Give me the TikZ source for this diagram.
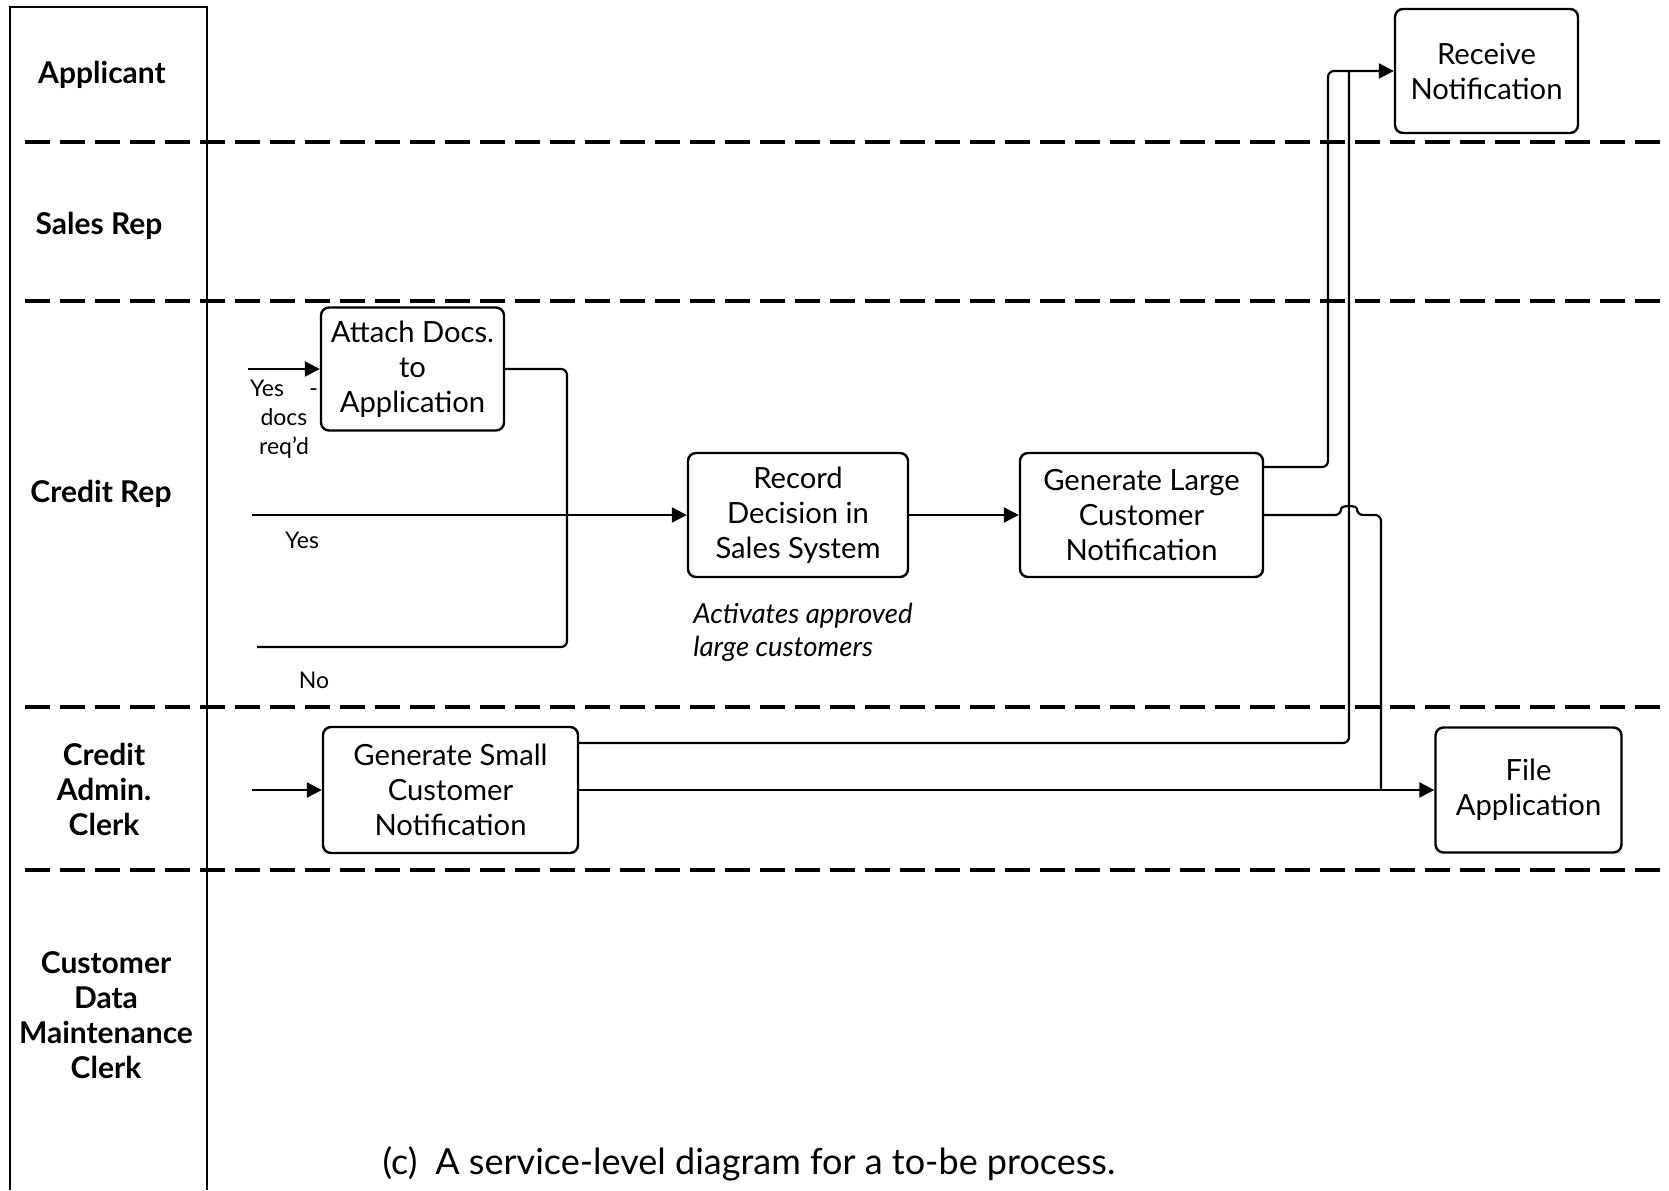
\documentclass[tikz,border=0pt]{standalone}
\usepackage{fontspec}
\setmainfont{Lato}
\usetikzlibrary{arrows.meta,positioning,calc}
\tikzset{task/.style={draw, rectangle, rounded corners=4pt, line width=1.2pt, align=center, inner sep=2pt, font=\fontsize{14.6}{17.5}\selectfont}}
\tikzstyle{lane}=[align=center, inner sep=0pt, font=\fontsize{15}{17.5}\selectfont\bfseries]
\tikzstyle{tag}=[align=center, inner sep=0pt, font=\fontsize{11.5}{14.5}\selectfont]
\tikzstyle{note}=[align=left, inner sep=0pt, font=\fontsize{13.8}{16.5}\selectfont\itshape]
\tikzstyle{flow}=[line width=1.1pt, rounded corners=3pt]
\tikzstyle{sep}=[line width=2.3pt, dash pattern=on 12.5pt off 5pt]

\begin{document}
\begin{tikzpicture}[x=0.5pt, y=-0.5pt, >={Triangle[length=7.5pt,width=7.5pt]}]
\useasboundingbox (0,0) rectangle (1669,1190);

% lanes
\draw[line width=1.3pt] (10,1190) -- (10,7) -- (207,7) -- (207,1190);
\foreach \y in {142,301,707,870}
  \draw[sep] (25,\y) -- (1669,\y);

\node[lane] (lApp) at (102,75) {Applicant};
\node[lane] (lSales) at (99,226) {Sales Rep};
\node[lane] (lCredit) at (101,494) {Credit Rep};
\node[lane] (lAdmin) at (104,789) {Credit\\Admin.\\Clerk};
\node[lane] (lCust) at (106,1015) {Customer\\Data\\Maintenance\\Clerk};

% activities
\node[task, minimum width=91.5pt, minimum height=61.5pt] (attach) at (412.5,369) {Attach Docs.\\to\\Application};
\node[task, minimum width=110pt, minimum height=62pt] (record) at (798,515) {Record\\Decision in\\Sales System};
\node[task, minimum width=121.5pt, minimum height=62pt] (genL) at (1141.5,515) {Generate Large\\Customer\\Notification};
\node[task, minimum width=91.5pt, minimum height=62pt] (recv) at (1486.5,71) {Receive\\Notification};
\node[task, minimum width=127.5pt, minimum height=63pt] (genS) at (450.5,790) {Generate Small\\Customer\\Notification};
\node[task, minimum width=93pt, minimum height=62.5pt] (fileA) at (1528.5,790) {File\\Application};

% texts
\node[tag] (docsTag) at (284,419) {Yes\hspace{1.1em}-\\docs\\req'd};
\node[tag] (yesTag) at (302,540) {Yes};
\node[tag] (noTag) at (314,680) {No};
\node[note, anchor=west] (actNote) at (693,632) {Activates approved\\large customers};
\node[inner sep=0pt, font=\fontsize{18}{21}\selectfont] (capt) at (749,1164) {(c)\enspace A service-level diagram for a to-be process.};

% flows
\coordinate (docsin) at (248,369);
\coordinate (yesin) at (252,515);
\coordinate (noin) at (257,647);
\coordinate (merge) at (567,515);
\coordinate (smallin) at (252,790);
\coordinate (busA) at (1328,0);
\coordinate (busB) at (1349,0);
\coordinate (busC) at (1381,0);
\coordinate (hop) at (1349,515);

\draw[flow,->] (docsin) -- (attach.west);
\draw[flow] (attach.east) -| (merge);
\draw[flow] (noin) -| (merge);
\draw[flow,->] (yesin) -- (record.west);
\draw[flow,->] (record) -- (genL);
\draw[flow,->] ([yshift=24pt]genL.east) -| (busA |- recv.west) -- (recv.west);
\draw[flow] ([yshift=23.5pt]genS.east) -| (busB |- recv.west);
\draw[flow] (genL.east) -- ([xshift=-4pt]hop) .. controls ([xshift=-4pt,yshift=5pt]hop) and ([xshift=4pt,yshift=5pt]hop) .. ([xshift=4pt]hop) -| (busC |- fileA.west);
\draw[flow,->] (smallin) -- (genS.west);
\draw[flow,->] (genS.east) -- (fileA.west);
\end{tikzpicture}
\end{document}
